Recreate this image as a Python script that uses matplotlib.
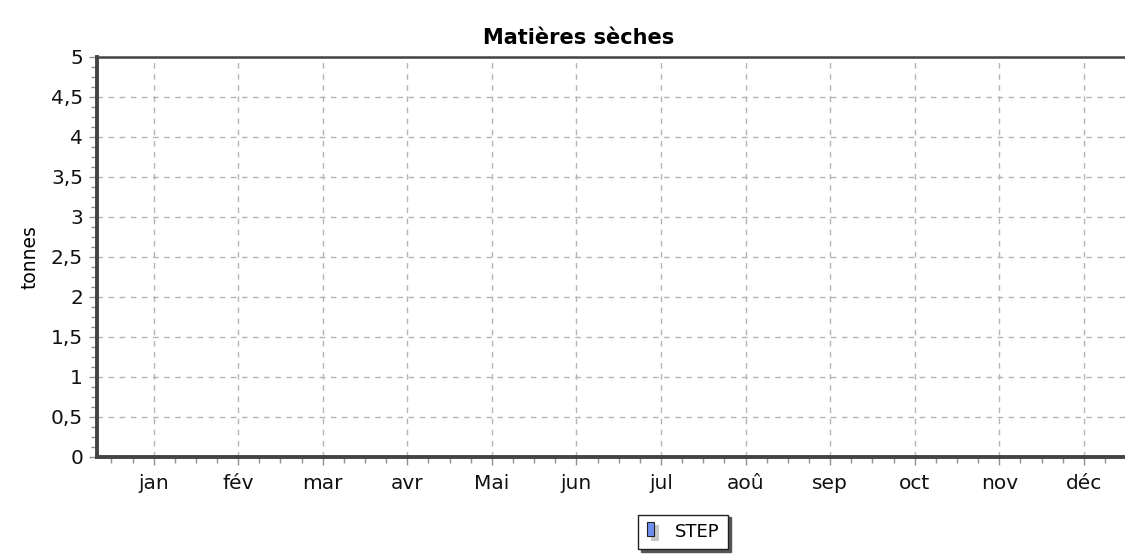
import numpy as np
import matplotlib.pyplot as plt
from matplotlib.ticker import MultipleLocator, FuncFormatter
from matplotlib.patches import Rectangle
from matplotlib.legend_handler import HandlerBase

months = ['jan', 'fév', 'mar', 'avr', 'Mai', 'jun', 'jul', 'aoû', 'sep', 'oct', 'nov', 'déc']
# série vide dans l'original
step_values = [None, None, None, None, None, None, None, None, None, None, None, None]
y_ticks = [0, 0.5, 1, 1.5, 2, 2.5, 3, 3.5, 4, 4.5, 5]

plt.rcParams['font.family'] = ['DejaVu Sans']

fig = plt.figure(figsize=(11.25, 5.54), dpi=100)
ax = fig.add_axes([97 / 1125, 1 - 457 / 554, (1125 - 97) / 1125 + 0.01, 400 / 554])

x = np.arange(len(months))
vals = np.array([np.nan if v is None else v for v in step_values], dtype=float)
bars = ax.bar(x, vals, 0.5, color='#6f8ff0', edgecolor='#222222', label='STEP')

ax.set_xlim(-0.67, 11.62)
ax.set_ylim(0, 5)
ax.set_xticks(x)
ax.set_xticklabels(months)
ax.set_yticks(y_ticks)
ax.yaxis.set_major_formatter(FuncFormatter(lambda v, p: ('%g' % v).replace('.', ',')))
ax.xaxis.set_minor_locator(MultipleLocator(0.25))
ax.yaxis.set_minor_locator(MultipleLocator(0.125))

ax.grid(True, which='major', color='#b4b4b4', linestyle=(0, (4, 4)), linewidth=1)
ax.tick_params(axis='both', which='major', length=6, width=1, color='#909090',
               labelsize=14.5, labelcolor='#111111', pad=4, direction='out')
ax.tick_params(axis='x', which='major', pad=6)
ax.tick_params(axis='both', which='minor', length=4, width=1, color='#909090', direction='out')

for s in ['left', 'bottom']:
    ax.spines[s].set_linewidth(2.8)
    ax.spines[s].set_color('#444444')
ax.spines['top'].set_linewidth(1.8)
ax.spines['top'].set_color('#444444')
ax.spines['right'].set_visible(False)

ax.set_title('Matières sèches', fontsize=15, fontweight='bold', pad=9, x=0.463)
ax.set_ylabel('tonnes', fontsize=13.5, labelpad=8)


class ShadowBar(HandlerBase):
    def create_artists(self, legend, orig, xd, yd, w, h, fontsize, trans):
        sh = Rectangle((xd + 3, yd - 3), 6, 12, facecolor='#c8c8c8', edgecolor='none', transform=trans)
        fg = Rectangle((xd, yd + 1), 5, 10, facecolor='#6f8ff0', edgecolor='#222222', lw=0.8, transform=trans)
        return [sh, fg]


leg = ax.legend(handles=[bars], labels=['STEP'], loc='center', bbox_to_anchor=(683 / 1125, 1 - 532 / 554),
                bbox_transform=fig.transFigure, handler_map={type(bars): ShadowBar()},
                handlelength=0.7, handletextpad=0.8, fontsize=13.5, fancybox=False,
                shadow={'color': '#555555', 'alpha': 1},
                framealpha=1, edgecolor='#222222', borderpad=0.45, borderaxespad=0)
leg._legend_box.sep = 0
leg.get_frame().set_linewidth(1)
leg.get_texts()[0].set_fontsize(13)

fig.savefig('out.png', dpi=100)
